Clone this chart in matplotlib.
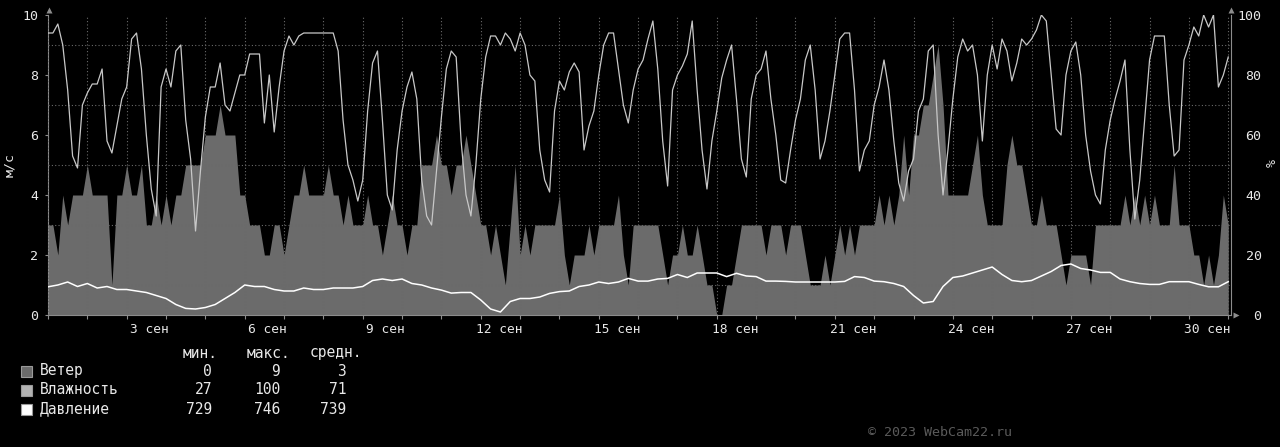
import numpy as np
import matplotlib.pyplot as plt
from matplotlib.patches import Rectangle

plt.rcParams['font.family'] = 'DejaVu Sans Mono'

# ветер, м/с - шаг 3 часа с 1 сен 00:00
wind = [
    3, 3, 2, 4, 3, 4, 4, 4,
    5, 4, 4, 4, 4, 1, 4, 4,
    5, 4, 4, 5, 3, 3, 4, 3,
    4, 3, 4, 4, 5, 5, 5, 5,
    6, 6, 6, 7, 6, 6, 6, 4,
    4, 3, 3, 3, 2, 2, 3, 3,
    2, 3, 4, 4, 5, 4, 4, 4,
    4, 5, 4, 4, 3, 4, 3, 3,
    3, 4, 3, 3, 2, 3, 4, 3,
    3, 2, 3, 3, 5, 5, 5, 6,
    5, 5, 4, 5, 5, 6, 5, 4,
    3, 3, 2, 3, 2, 1, 3, 5,
    2, 3, 2, 3, 3, 3, 3, 3,
    4, 2, 1, 2, 2, 2, 3, 2,
    3, 3, 3, 3, 4, 2, 1, 3,
    3, 3, 3, 3, 3, 2, 1, 2,
    2, 3, 2, 2, 3, 2, 1, 1,
    0, 0, 1, 1, 2, 3, 3, 3,
    3, 3, 2, 3, 3, 3, 2, 3,
    3, 3, 2, 1, 1, 1, 2, 1,
    2, 3, 2, 3, 2, 3, 3, 3,
    3, 4, 3, 4, 3, 4, 6, 4,
    6, 6, 7, 7, 8, 9, 7, 4,
    4, 4, 4, 4, 5, 6, 4, 3,
    3, 3, 3, 5, 6, 5, 5, 4,
    3, 3, 4, 3, 3, 3, 2, 1,
    2, 2, 2, 2, 1, 3, 3, 3,
    3, 3, 3, 4, 3, 4, 3, 4,
    3, 4, 3, 3, 3, 5, 3, 3,
    3, 2, 2, 1, 2, 1, 2, 4, 3,
]

# влажность, % - шаг 3 часа
humidity = [
    94, 94, 97, 90, 75, 53, 49, 70,
    74, 77, 77, 82, 58, 54, 63, 72,
    76, 92, 94, 82, 60, 42, 33, 76,
    82, 76, 88, 90, 65, 52, 28, 48,
    66, 76, 76, 84, 70, 68, 74, 80,
    80, 87, 87, 87, 64, 80, 61, 76,
    88, 93, 90, 93, 94, 94, 94, 94,
    94, 94, 94, 88, 65, 50, 45, 38,
    45, 68, 84, 88, 65, 40, 35, 55,
    68, 76, 81, 72, 45, 33, 30, 48,
    66, 82, 88, 86, 58, 40, 33, 50,
    72, 86, 93, 93, 90, 94, 92, 88,
    94, 90, 80, 78, 55, 45, 41, 68,
    78, 75, 81, 84, 81, 55, 63, 68,
    80, 90, 94, 94, 82, 70, 64, 75,
    82, 85, 92, 98, 82, 58, 43, 75,
    80, 83, 87, 98, 75, 55, 42, 58,
    68, 79, 85, 90, 72, 52, 46, 72,
    80, 82, 88, 72, 60, 45, 44, 55,
    65, 72, 85, 90, 75, 52, 58, 68,
    80, 92, 94, 94, 75, 48, 55, 58,
    70, 76, 85, 75, 58, 44, 38, 48,
    52, 68, 72, 88, 90, 60, 40, 55,
    72, 86, 92, 88, 90, 80, 58, 80,
    90, 82, 92, 88, 78, 84, 92, 90,
    92, 95, 100, 98, 80, 62, 60, 80,
    88, 91, 80, 60, 48, 40, 37, 55,
    65, 72, 78, 85, 55, 32, 45, 65,
    85, 93, 93, 93, 70, 53, 55, 85,
    90, 96, 93, 100, 96, 100, 76, 80, 86,
]

# давление, мм рт. ст. - шаг 6 часов
pressure = [
    738.4, 739.0, 740.0, 738.5, 739.5, 738.0, 738.5, 737.5, 737.5, 737.0,
    736.5, 735.5, 734.5, 732.5, 731.2, 731.0, 731.5, 732.5, 734.5, 736.5,
    739.0, 738.5, 738.5, 737.5, 737.0, 737.0, 738.0, 737.5, 737.5, 738.0,
    738.0, 738.0, 738.5, 740.5, 741.0, 740.5, 741.0, 739.5, 739.0, 738.0,
    737.3, 736.3, 736.5, 736.5, 734.0, 731.0, 730.0, 733.5, 734.5, 734.5,
    735.0, 736.2, 736.8, 737.0, 738.5, 739.0, 740.0, 739.5, 740.0, 741.2,
    740.3, 740.3, 741.0, 741.2, 742.5, 741.5, 743.0, 743.0, 743.0, 741.8,
    742.9, 742.0, 741.8, 740.3, 740.3, 740.2, 740.0, 740.0, 740.0, 740.0,
    740.0, 740.2, 741.8, 741.5, 740.3, 740.1, 739.5, 738.5, 735.5, 733.0,
    733.5, 738.5, 741.5, 742.0, 743.0, 744.0, 745.0, 742.5, 740.5, 740.1,
    740.5, 742.0, 743.5, 745.5, 746.0, 744.5, 744.0, 743.2, 743.2, 741.0,
    740.1, 739.5, 739.2, 739.2, 740.1, 740.1, 740.1, 739.2, 738.4, 738.4,
    740.1,
]

date_ticks = [3, 6, 9, 12, 15, 18, 21, 24, 27, 30]
date_labels = ['%d сен' % d for d in date_ticks]

series_names = ['Ветер', 'Влажность', 'Давление']
stat_min = [0, 27, 729]
stat_max = [9, 100, 746]
stat_avg = [3, 71, 739]

BG = '#000000'
AXC = '#8c8c8c'
GRIDC = '#6a6a6a'
TXT = '#e8e8e8'
WIND_C = '#6b6b6b'
HUM_C = '#c8c8c8'
PRES_C = '#ffffff'

W, H = 1280, 447
fig = plt.figure(figsize=(W / 100, H / 100), dpi=100, facecolor=BG)


def fx(x):
    return x / W


def fy(y):
    return 1 - y / H


ax = fig.add_axes([fx(48), fy(315), (1231 - 48) / W, 300 / H])
ax.set_facecolor(BG)

t3 = np.arange(len(wind)) / 8.0
t6 = np.arange(len(pressure)) / 4.0

ax.fill_between(t3, wind, color=WIND_C, lw=0, zorder=2)
ax.set_xlim(0, 30)
ax.set_ylim(0, 10)

ax_h = ax.twinx()
ax_h.plot(t3, humidity, color=HUM_C, lw=0.9)
ax_h.set_ylim(0, 100)

ax_p = ax.twinx()
ax_p.plot(t6, pressure, color=PRES_C, lw=1.1)
ax_p.set_ylim(729, 829)
ax_p.axis('off')

# сетка
ax.set_axisbelow(False)
ax.set_yticks(range(0, 11, 2))
ax.set_yticks(range(0, 11), minor=True)
ax.set_xticks(np.arange(0, 31), minor=True)
ax.set_xticks(np.array(date_ticks) + 0.07)
ax.set_xticklabels(date_labels)
for lbl in ax.get_xticklabels():
    lbl.set_ha('right')
ax.grid(which='minor', axis='both', color=GRIDC, lw=0.8, ls=(0, (1, 2)))
ax.tick_params(axis='x', which='major', length=0, pad=6, labelsize=9.3, labelcolor=TXT)
ax.tick_params(axis='x', which='minor', length=3, color=AXC, width=0.8)
ax.tick_params(axis='y', which='major', length=2, color=AXC, pad=5, labelsize=9.5, labelcolor=TXT)
ax.tick_params(axis='y', which='minor', length=0)

ax_h.set_yticks(range(0, 101, 20))
ax_h.tick_params(axis='y', length=0, pad=22, labelsize=9.5, labelcolor=TXT)
for lbl in ax_h.get_yticklabels():
    lbl.set_ha('right')

for a in (ax, ax_h):
    for s in a.spines.values():
        s.set_visible(False)
ax.spines['left'].set_visible(True)
ax.spines['bottom'].set_visible(True)
ax_h.spines['right'].set_visible(True)
for s in (ax.spines['left'], ax.spines['bottom'], ax_h.spines['right']):
    s.set_color(AXC)
    s.set_linewidth(0.8)

# стрелки на осях
for x, y, m in [(48.5, 10, '^'), (1231, 10, '^'), (1236, 315, '>')]:
    fig.add_artist(plt.Line2D([fx(x)], [fy(y)], marker=m, ms=4, color=AXC,
                              mec='none', transform=fig.transFigure))

fig.text(fx(10), fy(165), 'м/с', rotation=90, ha='center', va='center',
         color=TXT, fontsize=9.5)
fig.text(fx(1272), fy(163), '%', rotation=90, ha='center', va='center',
         color=TXT, fontsize=9.5)

# таблица легенды
fs = 10.5
for x, txt in zip([183, 247, 310], ['мин.', 'макс.', 'средн.']):
    fig.text(fx(x), fy(353), txt, ha='left', va='center', color=TXT, fontsize=fs)
sq_colors = [WIND_C, '#b4b4b4', '#ffffff']
for i, name in enumerate(series_names):
    yc = 371 + i * 19
    fig.add_artist(Rectangle((fx(21), fy(yc + 6)), 11 / W, 11 / H,
                             transform=fig.transFigure, facecolor=sq_colors[i],
                             edgecolor='#9a9a9a', lw=0.8))
    fig.text(fx(40), fy(yc), name, ha='left', va='center', color=TXT, fontsize=fs)
    for x, v in zip([212, 280, 346], [stat_min[i], stat_max[i], stat_avg[i]]):
        fig.text(fx(x), fy(yc), str(v), ha='right', va='center', color=TXT, fontsize=fs)

fig.text(fx(868), fy(433), '© 2023 WebCam22.ru', ha='left', va='center',
         color='#5a5a5a', fontsize=9.6)

fig.savefig('out.png', dpi=100, facecolor=BG)
